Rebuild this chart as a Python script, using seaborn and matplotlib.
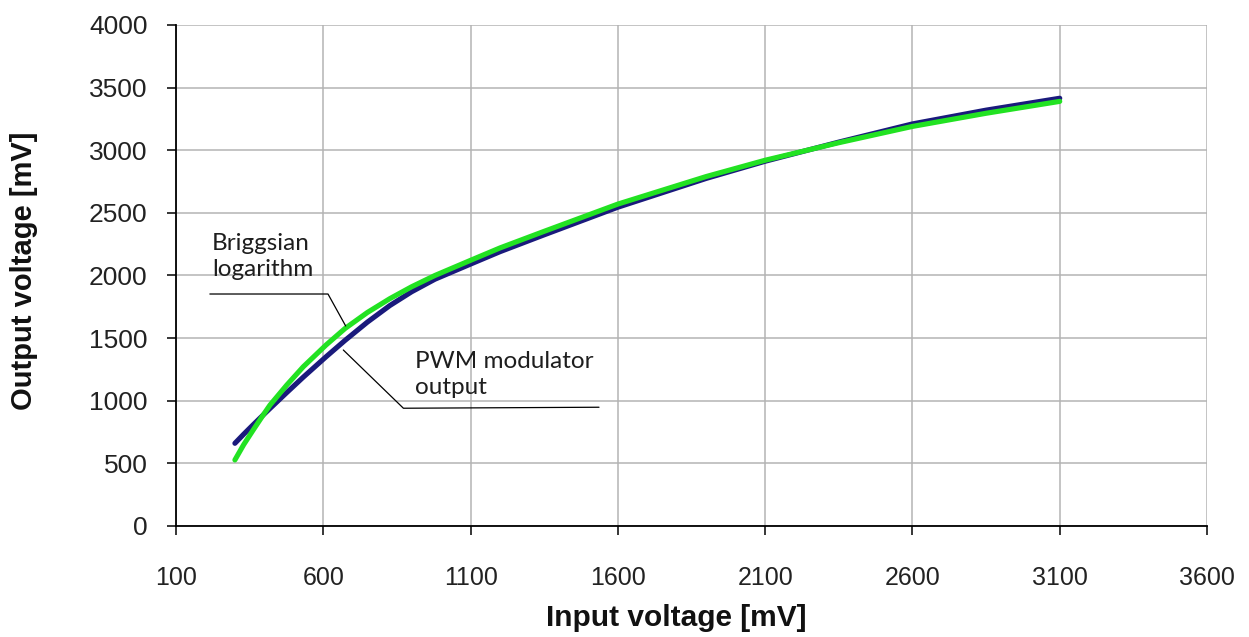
import numpy as np
import pandas as pd
import matplotlib
matplotlib.use("Agg")
import matplotlib.pyplot as plt
import seaborn as sns

# ---- data ----
input_mv = [300, 330, 362, 400, 419, 476, 532, 609, 674, 750, 826, 900, 979,
            1104, 1200, 1347, 1600, 1900, 2100, 2350, 2600, 2850, 3100]
pwm_output = [660, 733, 808, 895, 938, 1065, 1188, 1350, 1482, 1628, 1760, 1870, 1970,
              2095, 2190, 2322, 2545, 2775, 2912, 3065, 3210, 3320, 3415]
briggs_log = [527, 650, 766, 900, 965, 1125, 1271, 1444, 1577, 1705, 1815, 1910, 2000,
              2125, 2220, 2350, 2570, 2790, 2920, 3060, 3190, 3295, 3390]

x_ticks = [100, 600, 1100, 1600, 2100, 2600, 3100, 3600]
y_ticks = [0, 500, 1000, 1500, 2000, 2500, 3000, 3500, 4000]

series_names = ["PWM modulator output", "Briggsian logarithm"]
series_colors = {"PWM modulator output": "#1a1a7c", "Briggsian logarithm": "#22e222"}

df = pd.DataFrame({
    "x": input_mv * 2,
    "y": pwm_output + briggs_log,
    "series": [series_names[0]] * len(input_mv) + [series_names[1]] * len(input_mv),
})

sns.set_theme(style="whitegrid")
plt.rcParams["font.family"] = ["Liberation Sans", "DejaVu Sans"]

fig = plt.figure(figsize=(12.49, 6.37), dpi=100)
ax = fig.add_axes([0.1409, 0.1743, 0.8255, 0.7865])

sns.lineplot(data=df, x="x", y="y", hue="series", palette=series_colors,
             linewidth=3.7, ax=ax, legend=False, solid_capstyle="round",
             solid_joinstyle="round")

ax.set_xlim(100, 3600)
ax.set_ylim(0, 4000)
ax.set_xticks(x_ticks)
ax.set_yticks(y_ticks)
ax.set_xticklabels([str(v) for v in x_ticks])
ax.set_yticklabels([str(v) for v in y_ticks])

ax.grid(True, color="#b4b4b4", linewidth=1.1)
ax.set_facecolor("white")
for side in ["top", "right"]:
    ax.spines[side].set_visible(False)
for side in ["left", "bottom"]:
    ax.spines[side].set_visible(True)
    ax.spines[side].set_color("black")
    ax.spines[side].set_linewidth(1.3)

ax.tick_params(axis="both", which="major", direction="out", length=6.5, width=1.1,
               color="black", labelcolor="#222222", bottom=True, left=True)
ax.tick_params(axis="y", labelsize=19, pad=14)
ax.tick_params(axis="x", labelsize=18, pad=22)

ax.set_xlabel("Input voltage [mV]", fontsize=21.5, fontweight="bold", color="#111111")
ax.set_ylabel("Output voltage [mV]", fontsize=21, fontweight="bold", color="#111111",
              va="center", ha="center")
ax.xaxis.set_label_coords(0.4855, -0.155)
ax.yaxis.set_label_coords(-0.147, 0.51)

# ---- callouts ----
ann_font = ["Lato", "DejaVu Sans"]
ax.text(222, 2148, "Briggsian\nlogarithm", fontsize=17.5, family=ann_font,
        color="#1e1e1e", ha="left", va="center", linespacing=1.3)
ax.plot([215, 616, 676], [1852, 1852, 1597], color="black", linewidth=0.9)

ax.text(911, 1206, "PWM modulator\noutput", fontsize=17.5, family=ann_font,
        color="#1e1e1e", ha="left", va="center", linespacing=1.3)
ax.plot([1536, 872, 668], [948, 940, 1405], color="black", linewidth=0.9)

fig.savefig("out.png", dpi=100, facecolor="white")
